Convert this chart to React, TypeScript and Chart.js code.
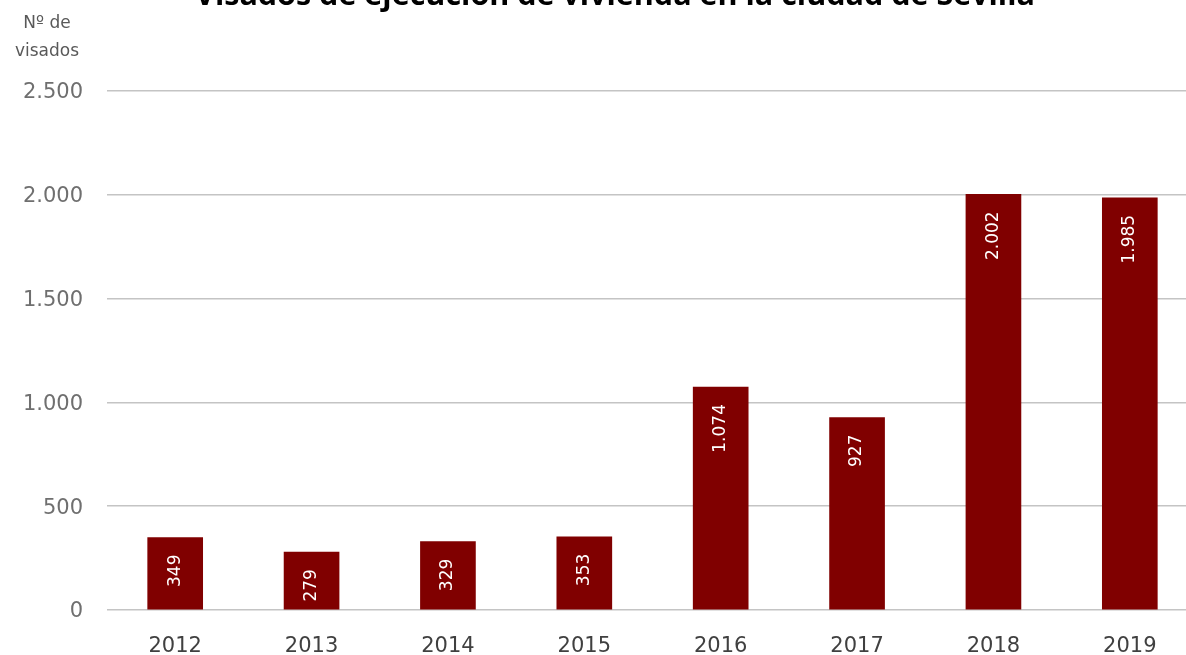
import React, { useEffect, useRef } from 'react';
import { Chart, registerables } from 'chart.js';

Chart.register(...registerables);

const TITLE = 'Visados de ejecución de vivienda en la ciudad de Sevilla';
const Y_TITLE_LINES = ['Nº de', 'visados'];
const YEARS = ['2012', '2013', '2014', '2015', '2016', '2017', '2018', '2019'];
const VISADOS = [349, 279, 329, 353, 1074, 927, 2002, 1985];
const Y_MIN = 0;
const Y_MAX = 2500;
const Y_STEP = 500;

const fmt = (v: number) => String(Math.round(v)).replace(/\B(?=(\d{3})+(?!\d))/g, '.');

const FONT = '"DejaVu Sans", sans-serif';

export default function App() {
  const ref = useRef<HTMLCanvasElement>(null);

  useEffect(() => {
    if (!ref.current) return;

    const overlay = {
      id: 'overlay',
      afterDatasetsDraw(chart: any) {
        const ctx = chart.ctx as CanvasRenderingContext2D;
        const meta = chart.getDatasetMeta(0);
        ctx.save();
        ctx.fillStyle = '#ffffff';
        ctx.font = `17px ${FONT}`;
        meta.data.forEach((bar: any, i: number) => {
          ctx.save();
          ctx.translate(bar.x, bar.y + 17);
          ctx.rotate(-Math.PI / 2);
          ctx.textAlign = 'right';
          ctx.textBaseline = 'middle';
          ctx.fillText(fmt(VISADOS[i]), 0, 0);
          ctx.restore();
        });
        ctx.restore();
      },
      afterDraw(chart: any) {
        const ctx = chart.ctx as CanvasRenderingContext2D;
        ctx.save();
        // Title (cut at top, as in the reference)
        ctx.fillStyle = '#000000';
        ctx.font = `bold 100px "Open Sans", sans-serif`;
        const w = ctx.measureText(TITLE).width;
        const size = (100 * 840) / w;
        ctx.font = `bold ${size}px "Open Sans", sans-serif`;
        ctx.textAlign = 'center';
        ctx.textBaseline = 'alphabetic';
        ctx.fillText(TITLE, 615, 5);
        // Y axis title
        ctx.fillStyle = '#595959';
        ctx.font = `17px ${FONT}`;
        ctx.fillText(Y_TITLE_LINES[0], 47, 28);
        ctx.fillText(Y_TITLE_LINES[1], 47, 56);
        ctx.restore();
      },
    };

    const chart = new Chart(ref.current, {
      type: 'bar',
      data: {
        labels: YEARS,
        datasets: [
          {
            data: VISADOS,
            backgroundColor: '#800000',
            borderWidth: 0,
            barThickness: 55,
          },
        ],
      },
      options: {
        responsive: false,
        animation: false,
        devicePixelRatio: 1,
        layout: { padding: { top: 91, right: 12, left: 0, bottom: 0 } },
        plugins: {
          legend: { display: false },
          tooltip: { enabled: false },
          title: { display: false },
        },
        scales: {
          x: {
            grid: { display: false },
            border: { display: false },
            ticks: { color: '#404040', font: { family: FONT, size: 21 }, padding: 16 },
            afterFit(s: any) {
              s.height = 45;
            },
          },
          y: {
            min: Y_MIN,
            max: Y_MAX,
            ticks: {
              stepSize: Y_STEP,
              callback: (v: any) => fmt(Number(v)),
              padding: 24,
              color: '#6f6f6f',
              font: { family: FONT, size: 21 },
              labelOffset: 2,
            },
            grid: { color: '#c4c4c4', lineWidth: 1.5, drawTicks: false },
            border: { display: false },
            afterFit(s: any) {
              s.width = 107;
            },
          },
        },
      },
      plugins: [overlay],
    });

    return () => chart.destroy();
  }, []);

  return (
    <div
      style={{
        position: 'fixed',
        left: 0,
        top: 0,
        width: 1186,
        height: 655,
        overflow: 'hidden',
        background: '#ffffff',
      }}
    >
      <canvas ref={ref} width={1210} height={655} style={{ display: 'block' }} />
    </div>
  );
}
